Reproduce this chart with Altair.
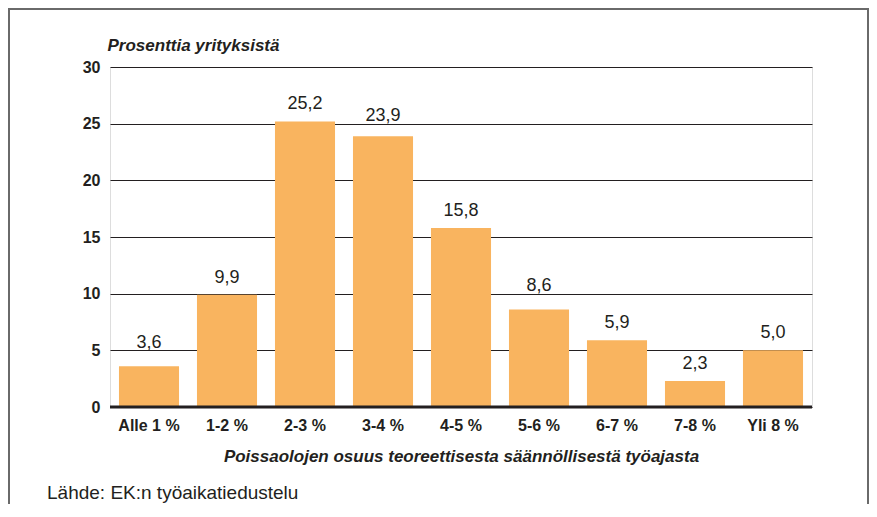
import altair as alt
import pandas as pd

categories = ["Alle 1 %", "1-2 %", "2-3 %", "3-4 %", "4-5 %", "5-6 %", "6-7 %", "7-8 %", "Yli 8 %"]
values = [3.6, 9.9, 25.2, 23.9, 15.8, 8.6, 5.9, 2.3, 5.0]
y_ticks = [0, 5, 10, 15, 20, 25, 30]

y_title = "Prosenttia yrityksistä"
x_title = "Poissaolojen osuus teoreettisesta säännöllisestä työajasta"
source = "Lähde: EK:n työaikatiedustelu"

TXT = "#231F20"
BAR = "#F9B45F"
FONT = "Liberation Sans"

W, H = 702, 340
PL, PT = 102, 59
CW, CH = 861, 496
UNIT = H / 30.0


def label_pos(v):
    # baseline ~12px above the bar; lift it above a gridline it would cross
    b = v + 12 / UNIT
    for g in y_ticks[1:]:
        if b - 0.2 <= g <= b + 1.3:
            b = g + 0.25
    return b


df = pd.DataFrame({
    "cat": categories,
    "val": values,
    "lab": [f"{v:.1f}".replace(".", ",") for v in values],
    "lpos": [label_pos(v) for v in values],
})

x = alt.X("cat:N", sort=categories,
          scale=alt.Scale(paddingInner=0.23, paddingOuter=0.115),
          axis=alt.Axis(title=x_title, labelAngle=0, ticks=False, domain=False,
                        labelFont=FONT, labelFontSize=16, labelFontWeight="bold",
                        labelColor=TXT, labelPadding=10,
                        titleFont=FONT, titleFontSize=17, titleFontWeight="bold",
                        titleFontStyle="italic", titleColor=TXT, titlePadding=15))
y = alt.Y("val:Q", scale=alt.Scale(domain=[0, 30], nice=False),
          axis=alt.Axis(title=y_title, values=y_ticks, ticks=False, domain=False,
                        grid=True, gridColor=TXT, gridWidth=1.2,
                        labelFont=FONT, labelFontSize=16, labelFontWeight="bold",
                        labelColor=TXT, labelPadding=10,
                        titleFont=FONT, titleFontSize=17, titleFontWeight="bold",
                        titleFontStyle="italic", titleColor=TXT, titleAngle=0,
                        titleAlign="left", titleBaseline="alphabetic",
                        titleX=-3, titleY=-17))

base = alt.Chart(df)

bars = base.mark_bar(color=BAR).encode(x=x, y=y)

zero = alt.Chart(pd.DataFrame({"z": [0]})).mark_rule(color=TXT, strokeWidth=3).encode(
    y=alt.Y("z:Q"), x=alt.value(0), x2=alt.value(W))

labels = base.mark_text(font=FONT, fontSize=18, color=TXT,
                        baseline="alphabetic").encode(
    x=alt.X("cat:N", sort=categories), y=alt.Y("lpos:Q"), text="lab:N")

src = alt.Chart(pd.DataFrame({"t": [source]})).mark_text(
    font=FONT, fontSize=19, color=TXT, align="left", baseline="alphabetic").encode(
    x=alt.value(-63), y=alt.value(432), text="t:N")

frame = alt.Chart(pd.DataFrame({"a": [0]})).mark_rect(
    fillOpacity=0, stroke="#6a6a6a", strokeWidth=2).encode(
    x=alt.value(-101), x2=alt.value(CW - PL - 1), y=alt.value(-58), y2=alt.value(700))

chart = alt.layer(frame, bars, zero, labels, src).properties(
    width=W, height=H,
    autosize=alt.AutoSizeParams(type="none"),
    padding={"left": PL, "top": PT, "right": CW - PL - W, "bottom": CH - PT - H},
).configure_view(stroke=None).configure(background="white")

chart.save("out.html", embed_options={"renderer": "svg", "actions": False})
